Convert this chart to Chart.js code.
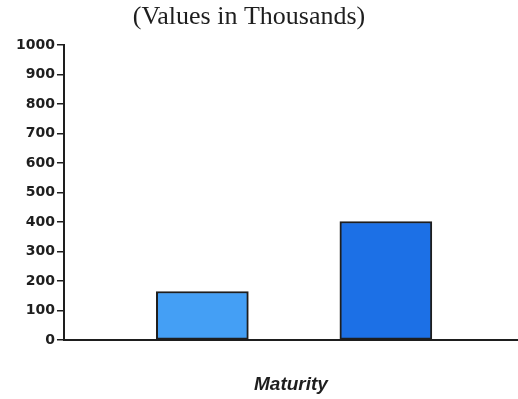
<!DOCTYPE html>
<html>
<head>
<meta charset="utf-8">
<script src="https://cdn.jsdelivr.net/npm/chart.js@4"></script>
<style>
    html, body { margin: 0; padding: 0; background: #fff; }
    #wrap { width: 518px; height: 399px; }
</style>
</head>
<body>
<div id="wrap"><canvas id="maturityChart" width="518" height="399"></canvas></div>
<script>
// maturity buckets (x position on the axis) and amounts in thousands
const maturitySlots = [1, 2]
const amounts = [165, 402]
const barColors = ['#449ff5', '#1c70e6']
const yTicks = [0, 100, 200, 300, 400, 500, 600, 700, 800, 900, 1000]
const chartTitle = '(Values in Thousands)'

const ink = '#1e1e1e'

// the caption sits a little left of the canvas centre in the original
const captionPlugin = {
    id: 'caption',
    afterDraw(chart) {
        const c = chart.ctx
        c.save()
        c.fillStyle = ink
        c.font = '26px "Liberation Serif"'
        c.textAlign = 'center'
        c.textBaseline = 'middle'
        c.fillText(chartTitle, 249, 17)
        c.restore()
    }
}

const ctx = document.getElementById('maturityChart')

window.maturityChart = new Chart(ctx, {
    type: 'bar',
    data: {
        datasets: [{
            data: maturitySlots.map((slot, i) => ({ x: slot, y: amounts[i] })),
            backgroundColor: barColors,
            borderColor: ink,
            borderWidth: 2,
            borderSkipped: false,
            barThickness: 92
        }]
    },
    plugins: [captionPlugin],
    options: {
        responsive: false,
        animation: false,
        layout: {
            padding: { left: 14, right: 0, top: 45, bottom: 3 }
        },
        plugins: {
            legend: { display: false },
            tooltip: { enabled: false },
            title: { display: false }
        },
        scales: {
            x: {
                type: 'linear',
                offset: false,
                min: 0.246,
                max: 2.72,
                ticks: { display: false },
                grid: { display: false },
                border: { display: true, color: ink, width: 2 },
                title: {
                    display: true,
                    text: 'Maturity',
                    color: ink,
                    font: { family: 'Liberation Sans', size: 19, style: 'italic', weight: 'bold' },
                    padding: { top: 25, bottom: 0 }
                }
            },
            y: {
                min: 0,
                max: 1000,
                afterBuildTicks: axis => {
                    axis.ticks = yTicks.map(v => ({ value: v }))
                },
                ticks: {
                    color: ink,
                    padding: 2,
                    font: { family: 'DejaVu Sans', size: 14, weight: 'bold' },
                    callback: value => String(value)
                },
                grid: {
                    drawOnChartArea: false,
                    drawTicks: true,
                    tickLength: 7,
                    color: ink,
                    lineWidth: 1.5
                },
                border: { display: true, color: ink, width: 2 }
            }
        }
    }
})
</script>
</body>
</html>
